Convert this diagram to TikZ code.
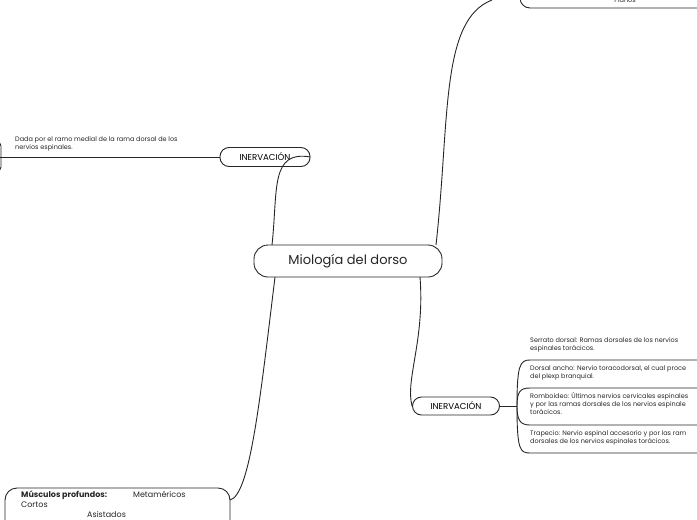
\documentclass[tikz,border=0pt]{standalone}
\usepackage{fontspec}
\setmainfont{Poppins}
\begin{document}
\begin{tikzpicture}[x=1pt,y=-1pt,
  conn/.style={draw=black!85,line width=0.9pt},
  pill/.style={draw=black!85,line width=0.9pt,rounded corners=9pt,fill=white,inner sep=0pt},
  small/.style={font=\fontsize{6.5}{8}\selectfont,align=left,anchor=north west,inner sep=0pt,text=black!85}]
\useasboundingbox (0,0) rectangle (697,520);
% main
\node[pill,minimum width=188pt,minimum height=32pt,rounded corners=14pt,font=\fontsize{13}{14}\selectfont,text=black!85] (main) at (348,261) {Miología del dorso};
% left inervacion
\node[pill,minimum width=90pt,minimum height=19pt,font=\fontsize{8.6}{9}\selectfont] (il) at (265,157) {INERVACIÓN};
\coordinate (lend) at (0,157);
\draw[conn] (il.west) -- (lend);
\draw[conn,rounded corners=5pt] (-10,141) -- (1,141) -- (1,172) -- (-10,172);
\node[small] (dl) at (15,136) {Dada por el ramo medial de la rama dorsal de los\\nervios espinales.};
\draw[conn] (272,245) .. controls (278,190) and (270,150) .. (il.east);
% top
\draw[conn,rounded corners=10pt] (520,-20) -- (520,8) -- (710,8);
\node[small,anchor=base] (pl) at (625,2) {Planos};
\coordinate (tp) at (492,0);
\draw[conn] (436,245) .. controls (450,120) and (440,20) .. (tp);
% right inervacion
\node[pill,minimum width=87pt,minimum height=18pt,font=\fontsize{8.6}{9}\selectfont] (ir) at (456,406) {INERVACIÓN};
\draw[conn] (420,277) .. controls (425,340) and (405,380) .. (ir.west);
\coordinate (br) at (517,406);
\draw[conn] (ir.east) -- (br);
\draw[conn] (br) .. controls (517,365) and (520,360) .. (530,360) -- (700,360);
\draw[conn] (br) .. controls (517,392) and (520,388) .. (530,388) -- (700,388);
\draw[conn] (br) .. controls (517,420) and (520,425) .. (530,425) -- (700,425);
\draw[conn] (br) .. controls (517,450) and (520,453) .. (530,453) -- (700,453);
\node[small] (s1) at (530,337) {Serrato dorsal: Ramas dorsales de los nervios\\espinales torácicos.};
\node[small] (s2) at (530,365) {Dorsal ancho: Nervio toracodorsal, el cual proce\\del plexp branquial.};
\node[small] (s3) at (530,392) {Romboideo: Últimos nervios cervicales espinales\\y por las ramas dorsales de los nervios espinale\\torácicos.};
\node[small] (s4) at (530,430) {Trapecio: Nervio espinal accesorio y por las ram\\dorsales de los nervios espinales torácicos.};
% bottom
\draw[conn,rounded corners=12pt] (5,540) -- (5,488) -- (230,488) -- (230,540);
\node[small,font=\fontsize{8}{10}\selectfont] (mp) at (21,491) {\textbf{Músculos profundos:}\hspace{26pt}Metaméricos\\Cortos\\\hspace{66pt}Asistados};
\draw[conn] (275,277) .. controls (260,400) and (250,495) .. (230,500);
\end{tikzpicture}
\end{document}
